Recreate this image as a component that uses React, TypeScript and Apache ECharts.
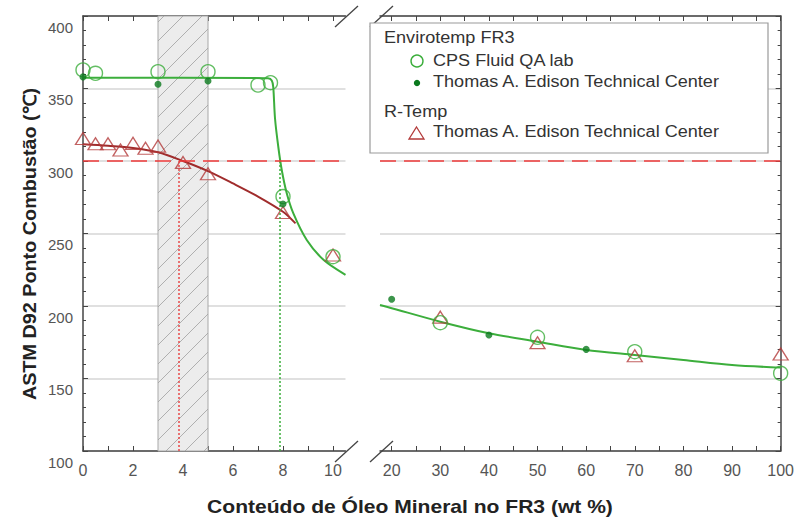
import React, { useEffect, useRef } from "react";
import * as echarts from "echarts";

// ---- data ----
const yMin = 100;
const yMax = 400;
const leftRange = [0, 10.5];
const rightRange = [17.6, 100];
const leftTicks = [0, 1, 2, 3, 4, 5, 6, 7, 8, 9, 10];
const leftLabels = [0, 2, 4, 6, 8, 10];
const rightTicks = [20, 25, 30, 35, 40, 45, 50, 55, 60, 65, 70, 75, 80, 85, 90, 95, 100];
const rightLabels = [20, 30, 40, 50, 60, 70, 80, 90, 100];

const minFirePoint = 300;
const band = [3, 5];
const crossRTemp = 3.84;
const crossFR3 = 7.88;

// Envirotemp FR3 - CPS Fluid QA lab (open circles)
const fr3CpsLow = [[0, 362.8], [0.5, 360.5], [3, 361.6], [5, 361.6], [7, 352.4], [7.5, 354], [8, 275.5], [10, 234]];
const fr3CpsHigh = [[30, 188.5], [50, 178.4], [70, 168.5], [100, 153.6]];
// Envirotemp FR3 - Thomas A. Edison Technical Center (filled dots)
const fr3EdisonLow = [[0, 358], [3, 352.9], [5, 355.2], [8, 270.4]];
const fr3EdisonHigh = [[20, 204.6], [40, 180], [60, 170.1]];
// R-Temp - Thomas A. Edison Technical Center (triangles)
const rtempLow = [[0, 315.5], [0.5, 311.9], [1, 311.9], [1.5, 307.6], [2, 312.2], [2.5, 308.8], [3, 310.3], [4, 299], [5, 291.2], [8, 264.5], [10, 235.2]];
const rtempHigh = [[30, 192.3], [50, 174.7], [70, 165.7], [100, 166.9]];
// fitted curves
const fr3FitLow = [[0, 357.5], [6.8, 357.3], [7.4, 357], [7.55, 355.5], [7.61, 351], [7.68, 329.5], [7.81, 310], [7.95, 293.8], [8.15, 277.7], [8.41, 264], [8.95, 245.5], [9.63, 231.7], [10.5, 221.5]];
const fr3FitHigh = [[17.6, 200.7], [20, 198.5], [30, 189.2], [40, 181.2], [50, 175.4], [60, 169.7], [70, 166.2], [80, 162.8], [90, 159.3], [100, 157.5]];
const rtempFitLow = [[0, 311.5], [1, 310.5], [2, 309], [3, 306], [4, 300], [5, 293], [6, 284.5], [7, 275.5], [8, 265], [8.5, 257]];

const FONT = "'Liberation Sans', Arial, sans-serif";
const GREEN = "#3cae3c";
const DARKGREEN = "#0b7a1e";
const RED = "#b33a3a";
const DARKRED = "#a02c2c";
const DASHRED = "#ee3a3a";
const AXIS = "#444";

function xAxisDef(gridIndex: number, position: string, range: number[], ticks: number[], labels: number[], showLabels: boolean) {
  return {
    type: "value",
    gridIndex,
    position,
    min: range[0],
    max: range[1],
    axisLine: { show: true, onZero: false, lineStyle: { color: AXIS, width: 1.5 } },
    axisTick: { show: true, inside: true, length: 5, customValues: ticks, lineStyle: { color: AXIS } },
    axisLabel: { show: showLabels, customValues: labels, fontSize: 16, color: "#555", margin: 11, fontFamily: FONT },
    splitLine: { show: false },
  };
}

function yAxisDef(gridIndex: number, position: string, showLabels: boolean) {
  return {
    type: "value",
    gridIndex,
    position,
    min: yMin,
    max: yMax,
    interval: 50,
    axisLine: { show: true, lineStyle: { color: AXIS, width: 1.5 } },
    axisTick: { show: true, inside: true, length: 5, lineStyle: { color: AXIS } },
    minorTick: { show: true, splitNumber: 5, length: 3, lineStyle: { color: AXIS } },
    axisLabel: { show: showLabels, fontSize: 15, color: "#555", margin: 10, fontFamily: FONT, verticalAlign: "top", lineHeight: 22 },
    splitLine: { show: true, lineStyle: { color: "#d6d6d6", width: 1.5 } },
  };
}

function bandRender(params: any, api: any) {
  const x0 = api.value(0);
  const x1 = api.value(1);
  const pTop = api.coord([x0, yMax]);
  const pBot = api.coord([x1, yMin]);
  const left = pTop[0], top = pTop[1], right = pBot[0], bottom = pBot[1];
  const w = right - left;
  const children: any[] = [
    { type: "rect", shape: { x: left, y: top, width: w, height: bottom - top }, style: { fill: "#ececec", stroke: "#a8a8a8", lineWidth: 1 } },
  ];
  const step = 19;
  for (let c = top + 6; c < bottom + w; c += step) {
    let xa = left, ya = c;
    if (ya > bottom) { xa = left + (ya - bottom); ya = bottom; }
    let xb = right, yb = c - w;
    if (yb < top) { xb = right - (top - yb); yb = top; }
    if (xa < xb) {
      children.push({ type: "line", shape: { x1: xa, y1: ya, x2: xb, y2: yb }, style: { stroke: "#a0a0a0", lineWidth: 0.8 } });
    }
  }
  return { type: "group", children };
}

const legendText = (x: number, y: number, text: string) => ({
  type: "text",
  x,
  y,
  scaleX: 1.13,
  style: { text, font: `16px ${FONT}`, fill: "#333", textVerticalAlign: "middle" },
  z: 101,
});

export default function App() {
  const ref = useRef<HTMLDivElement>(null);
  useEffect(() => {
    if (!ref.current) return;
    const chart = echarts.init(ref.current, null, { renderer: "svg" });
    const dashLine = {
      silent: true,
      symbol: "none",
      label: { show: false },
      lineStyle: { color: DASHRED, type: [16, 8], width: 1.6 },
      data: [{ yAxis: minFirePoint }],
    };
    const option: any = {
      animation: false,
      backgroundColor: "#ffffff",
      textStyle: { fontFamily: FONT },
      grid: [
        { left: 83, top: 16, width: 262.5, height: 435 },
        { left: 380, top: 16, width: 401, height: 435 },
      ],
      xAxis: [
        xAxisDef(0, "bottom", leftRange, leftTicks, leftLabels, true),
        xAxisDef(0, "top", leftRange, leftTicks, leftLabels, false),
        xAxisDef(1, "bottom", rightRange, rightTicks, rightLabels, true),
        xAxisDef(1, "top", rightRange, rightTicks, rightLabels, false),
      ],
      yAxis: [yAxisDef(0, "left", true), yAxisDef(1, "right", false)],
      series: [
        {
          type: "custom",
          xAxisIndex: 0,
          yAxisIndex: 0,
          z: 1,
          silent: true,
          encode: { x: [0, 1] },
          data: [[band[0], band[1]]],
          renderItem: bandRender,
        },
        {
          type: "line",
          name: "rtempFitLow",
          xAxisIndex: 0,
          yAxisIndex: 0,
          z: 3,
          data: rtempFitLow,
          smooth: 0.3,
          showSymbol: false,
          lineStyle: { color: DARKRED, width: 2 },
          markLine: {
            silent: true,
            symbol: "none",
            label: { show: false },
            lineStyle: { color: "#e84848", type: [2, 2], width: 1.5 },
            data: [[{ coord: [crossRTemp, minFirePoint] }, { coord: [crossRTemp, yMin] }]],
          },
        },
        {
          type: "line",
          name: "fr3FitLow",
          xAxisIndex: 0,
          yAxisIndex: 0,
          z: 3,
          data: fr3FitLow,
          smooth: 0.3,
          showSymbol: false,
          lineStyle: { color: GREEN, width: 2 },
          markLine: {
            silent: true,
            symbol: "none",
            label: { show: false },
            lineStyle: { color: GREEN, type: [2, 2], width: 1.5 },
            data: [[{ coord: [crossFR3, minFirePoint] }, { coord: [crossFR3, yMin] }]],
          },
        },
        {
          type: "line",
          name: "dash300",
          xAxisIndex: 0,
          yAxisIndex: 0,
          z: 2,
          data: [],
          markLine: dashLine,
        },
        {
          type: "line",
          name: "fr3FitHigh",
          xAxisIndex: 2,
          yAxisIndex: 1,
          z: 3,
          data: fr3FitHigh,
          smooth: 0.3,
          showSymbol: false,
          lineStyle: { color: GREEN, width: 2 },
          markLine: dashLine,
        },
        {
          type: "scatter",
          name: "R-Temp Edison",
          xAxisIndex: 0,
          yAxisIndex: 0,
          z: 4,
          data: rtempLow,
          symbol: "triangle",
          symbolSize: [15, 12],
          itemStyle: { color: "rgba(255,255,255,0)", borderColor: RED, borderWidth: 1.3 },
        },
        {
          type: "scatter",
          name: "R-Temp Edison",
          xAxisIndex: 2,
          yAxisIndex: 1,
          z: 4,
          data: rtempHigh,
          symbol: "triangle",
          symbolSize: [15, 12],
          itemStyle: { color: "rgba(255,255,255,0)", borderColor: RED, borderWidth: 1.3 },
        },
        {
          type: "scatter",
          name: "CPS",
          xAxisIndex: 0,
          yAxisIndex: 0,
          z: 5,
          data: fr3CpsLow,
          symbol: "circle",
          symbolSize: 14,
          itemStyle: { color: "rgba(255,255,255,0)", borderColor: GREEN, borderWidth: 1.4 },
        },
        {
          type: "scatter",
          name: "CPS",
          xAxisIndex: 2,
          yAxisIndex: 1,
          z: 5,
          data: fr3CpsHigh,
          symbol: "circle",
          symbolSize: 14,
          itemStyle: { color: "rgba(255,255,255,0)", borderColor: GREEN, borderWidth: 1.4 },
        },
        {
          type: "scatter",
          name: "FR3 Edison",
          xAxisIndex: 0,
          yAxisIndex: 0,
          z: 6,
          data: fr3EdisonLow,
          symbol: "circle",
          symbolSize: 7,
          itemStyle: { color: DARKGREEN },
        },
        {
          type: "scatter",
          name: "FR3 Edison",
          xAxisIndex: 2,
          yAxisIndex: 1,
          z: 6,
          data: fr3EdisonHigh,
          symbol: "circle",
          symbolSize: 7,
          itemStyle: { color: DARKGREEN },
        },
      ],
      graphic: [
        // axis break marks
        { type: "line", shape: { x1: 335, y1: 462, x2: 358, y2: 441 }, style: { stroke: AXIS, lineWidth: 1.3 }, z: 100 },
        { type: "line", shape: { x1: 370, y1: 462, x2: 393, y2: 441 }, style: { stroke: AXIS, lineWidth: 1.3 }, z: 100 },
        { type: "line", shape: { x1: 335, y1: 27, x2: 358, y2: 6 }, style: { stroke: AXIS, lineWidth: 1.3 }, z: 100 },
        { type: "line", shape: { x1: 370, y1: 27, x2: 393, y2: 6 }, style: { stroke: AXIS, lineWidth: 1.3 }, z: 100 },
        // legend box
        { type: "rect", shape: { x: 370, y: 23, width: 398, height: 130 }, style: { fill: "#ffffff", stroke: "#9a9a9a", lineWidth: 1.2 }, z: 100 },
        legendText(384, 38, "Envirotemp FR3"),
        { type: "circle", shape: { cx: 417, cy: 61, r: 6 }, style: { fill: "none", stroke: GREEN, lineWidth: 1.4 }, z: 101 },
        legendText(433, 61, "CPS Fluid QA lab"),
        { type: "circle", shape: { cx: 417, cy: 83, r: 3.2 }, style: { fill: DARKGREEN }, z: 101 },
        legendText(433, 82, "Thomas A. Edison Technical Center"),
        legendText(384, 112, "R-Temp"),
        { type: "polygon", shape: { points: [[416.5, 127], [424, 139], [409, 139]] }, style: { fill: "none", stroke: RED, lineWidth: 1.3 }, z: 101 },
        legendText(433, 132, "Thomas A. Edison Technical Center"),
        // axis titles
        { type: "text", x: 410, y: 507, scaleX: 1.17, style: { text: "Conteúdo de Óleo Mineral no FR3 (wt %)", font: `bold 18px ${FONT}`, fill: "#222", textAlign: "center", textVerticalAlign: "middle" }, z: 101 },
        { type: "text", x: 30, y: 244, rotation: Math.PI / 2, scaleX: 1.1, style: { text: "ASTM D92 Ponto Combustão (℃)", font: `bold 18px ${FONT}`, fill: "#222", textAlign: "center", textVerticalAlign: "middle" }, z: 101 },
      ],
    };
    chart.setOption(option);
    return () => chart.dispose();
  }, []);
  return <div ref={ref} style={{ position: "fixed", left: 0, top: 0, width: 797, height: 519, background: "#fff" }} />;
}
